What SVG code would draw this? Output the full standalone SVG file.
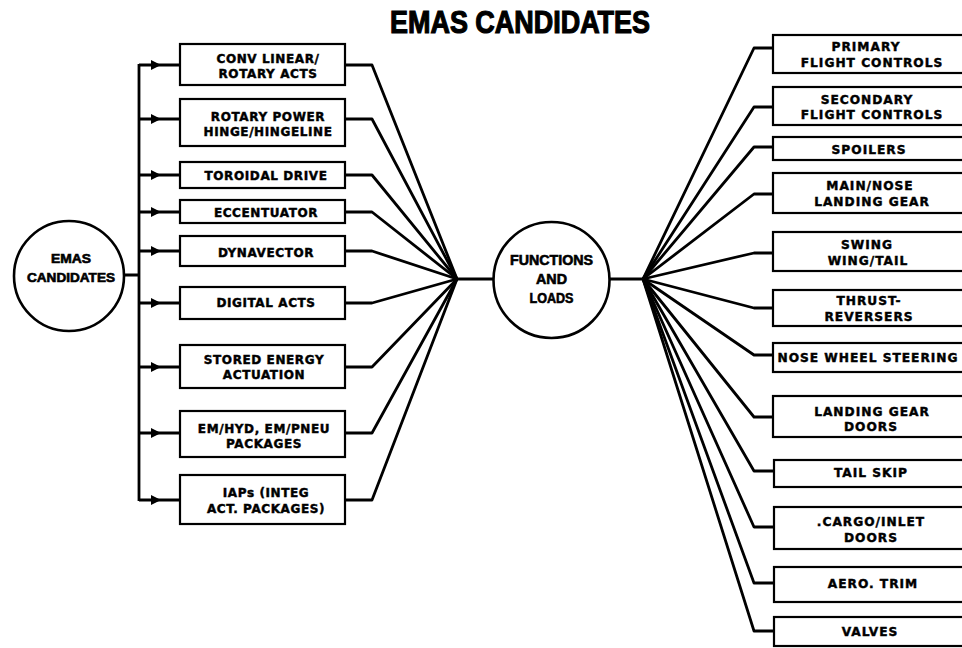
<svg xmlns="http://www.w3.org/2000/svg" width="962" height="648" viewBox="0 0 962 648">
<style>
.bg{fill:#fff}
.box{fill:#fff;stroke:#000;stroke-width:2.2}
.circ{fill:#fff;stroke:#000;stroke-width:2.6}
.ln{fill:none;stroke:#000;stroke-width:2.8;stroke-linejoin:round}
.t{font-family:"DejaVu Sans",sans-serif;font-weight:bold;font-size:12px;letter-spacing:0.6px;text-anchor:middle;fill:#000;stroke:#000;stroke-width:0.45}
.r{font-size:12.2px;letter-spacing:1px}
.c{font-family:"Liberation Sans",sans-serif;font-weight:bold;text-anchor:middle;fill:#000;stroke:#000;stroke-width:0.6}
</style>
<defs>
<marker id="ah" viewBox="0 0 10 10" refX="10" refY="5" markerWidth="10" markerHeight="10" markerUnits="userSpaceOnUse" orient="auto">
<path d="M0,0 L10,5 L0,10 Z" fill="#000"/>
</marker>
</defs>
<rect class="bg" width="962" height="648"/>
<text class="c" x="520" y="33" font-size="32" textLength="260" lengthAdjust="spacingAndGlyphs" style="stroke-width:1.2">EMAS CANDIDATES</text>

<g id="connectors">
<path class="ln" d="M125,275 L139,275 M139,64 L139,501"/>
<path class="ln" marker-mid="url(#ah)" d="M139,65 L161,65 L180,65"/>
<path class="ln" marker-mid="url(#ah)" d="M139,119 L161,119 L180,119"/>
<path class="ln" marker-mid="url(#ah)" d="M139,175 L161,175 L180,175"/>
<path class="ln" marker-mid="url(#ah)" d="M139,212 L161,212 L180,212"/>
<path class="ln" marker-mid="url(#ah)" d="M139,251 L161,251 L180,251"/>
<path class="ln" marker-mid="url(#ah)" d="M139,303 L161,303 L180,303"/>
<path class="ln" marker-mid="url(#ah)" d="M139,367 L161,367 L180,367"/>
<path class="ln" marker-mid="url(#ah)" d="M139,433 L161,433 L180,433"/>
<path class="ln" marker-mid="url(#ah)" d="M139,500 L161,500 L180,500"/>
<path class="ln" d="M345,65 L372,65 L457,279"/>
<path class="ln" d="M345,119 L372,119 L457,279"/>
<path class="ln" d="M345,175 L372,175 L457,279"/>
<path class="ln" d="M345,212 L372,212 L457,279"/>
<path class="ln" d="M345,251 L372,251 L457,279"/>
<path class="ln" d="M345,303 L372,303 L457,279"/>
<path class="ln" d="M345,367 L372,367 L457,279"/>
<path class="ln" d="M345,433 L372,433 L457,279"/>
<path class="ln" d="M345,500 L372,500 L457,279"/>
<path class="ln" d="M457,279 L493,279 M610,279 L643,279"/>
<path class="ln" d="M773,48 L754,48 L643,279"/>
<path class="ln" d="M773,107 L754,107 L643,279"/>
<path class="ln" d="M773,147 L754,147 L643,279"/>
<path class="ln" d="M773,194 L754,194 L643,279"/>
<path class="ln" d="M773,253 L754,253 L643,279"/>
<path class="ln" d="M773,308 L754,308 L643,279"/>
<path class="ln" d="M773,355 L754,355 L643,279"/>
<path class="ln" d="M773,417 L754,417 L643,279"/>
<path class="ln" d="M773,471 L754,471 L643,279"/>
<path class="ln" d="M773,527 L754,527 L643,279"/>
<path class="ln" d="M773,583 L754,583 L643,279"/>
<path class="ln" d="M773,631 L754,631 L643,279"/>
</g>

<g id="emas-candidates">
<circle class="circ" cx="69" cy="276" r="55"/>
<text class="c" x="71" y="263" font-size="12.5" textLength="40" lengthAdjust="spacingAndGlyphs">EMAS</text>
<text class="c" x="71" y="282" font-size="12.5" textLength="88" lengthAdjust="spacingAndGlyphs">CANDIDATES</text>
</g>

<g id="functions-and-loads">
<circle class="circ" cx="551.5" cy="280" r="58"/>
<text class="c" x="551.5" y="265" font-size="14" textLength="83" lengthAdjust="spacingAndGlyphs">FUNCTIONS</text>
<text class="c" x="551.5" y="284" font-size="14" textLength="31" lengthAdjust="spacingAndGlyphs">AND</text>
<text class="c" x="551.5" y="303" font-size="14" textLength="44" lengthAdjust="spacingAndGlyphs">LOADS</text>
</g>

<g id="l1"><rect class="box" x="180" y="44" width="165" height="41"/><text class="t" x="268" y="63">CONV LINEAR/</text><text class="t" x="268" y="78">ROTARY ACTS</text></g>
<g id="l2"><rect class="box" x="180" y="99" width="165" height="47"/><text class="t" x="268" y="121">ROTARY POWER</text><text class="t" x="268" y="136">HINGE/HINGELINE</text></g>
<g id="l3"><rect class="box" x="180" y="162" width="165" height="26"/><text class="t" x="266" y="180">TOROIDAL DRIVE</text></g>
<g id="l4"><rect class="box" x="180" y="200" width="165" height="23"/><text class="t" x="266" y="217">ECCENTUATOR</text></g>
<g id="l5"><rect class="box" x="180" y="236" width="165" height="30"/><text class="t" x="266" y="257">DYNAVECTOR</text></g>
<g id="l6"><rect class="box" x="180" y="287" width="165" height="32"/><text class="t" x="266" y="307">DIGITAL ACTS</text></g>
<g id="l7"><rect class="box" x="180" y="345" width="165" height="43"/><text class="t" x="264" y="364">STORED ENERGY</text><text class="t" x="264" y="379">ACTUATION</text></g>
<g id="l8"><rect class="box" x="180" y="411" width="165" height="46"/><text class="t" x="264" y="433">EM/HYD, EM/PNEU</text><text class="t" x="264" y="448">PACKAGES</text></g>
<g id="l9"><rect class="box" x="180" y="475" width="165" height="49"/><text class="t" x="266" y="497">IAPs (INTEG</text><text class="t" x="266" y="513">ACT. PACKAGES)</text></g>

<g id="r1"><rect class="box" x="773" y="35" width="220" height="38"/><text class="t r" x="866" y="51">PRIMARY</text><text class="t r" x="872" y="67">FLIGHT CONTROLS</text></g>
<g id="r2"><rect class="box" x="773" y="87" width="220" height="38"/><text class="t r" x="867" y="104">SECONDARY</text><text class="t r" x="872" y="119">FLIGHT CONTROLS</text></g>
<g id="r3"><rect class="box" x="773" y="137" width="220" height="23"/><text class="t r" x="869" y="154">SPOILERS</text></g>
<g id="r4"><rect class="box" x="773" y="173" width="220" height="40"/><text class="t r" x="870" y="190">MAIN/NOSE</text><text class="t r" x="872" y="206">LANDING GEAR</text></g>
<g id="r5"><rect class="box" x="773" y="232" width="220" height="39"/><text class="t r" x="867" y="249">SWING</text><text class="t r" x="868" y="265">WING/TAIL</text></g>
<g id="r6"><rect class="box" x="773" y="290" width="220" height="36"/><text class="t r" x="869" y="305">THRUST-</text><text class="t r" x="869" y="321">REVERSERS</text></g>
<g id="r7"><rect class="box" x="773" y="343" width="220" height="29"/><text class="t r" x="868" y="362">NOSE WHEEL STEERING</text></g>
<g id="r8"><rect class="box" x="773" y="396" width="220" height="41"/><text class="t r" x="872" y="416">LANDING GEAR</text><text class="t r" x="871" y="431">DOORS</text></g>
<g id="r9"><rect class="box" x="774" y="460" width="220" height="27"/><text class="t r" x="871" y="477">TAIL SKIP</text></g>
<g id="r10"><rect class="box" x="774" y="507" width="220" height="42"/><text class="t r" x="871" y="526">.CARGO/INLET</text><text class="t r" x="871" y="542">DOORS</text></g>
<g id="r11"><rect class="box" x="774" y="567" width="220" height="35"/><text class="t r" x="873" y="588">AERO. TRIM</text></g>
<g id="r12"><rect class="box" x="774" y="617" width="220" height="29"/><text class="t r" x="870" y="636">VALVES</text></g>
</svg>
